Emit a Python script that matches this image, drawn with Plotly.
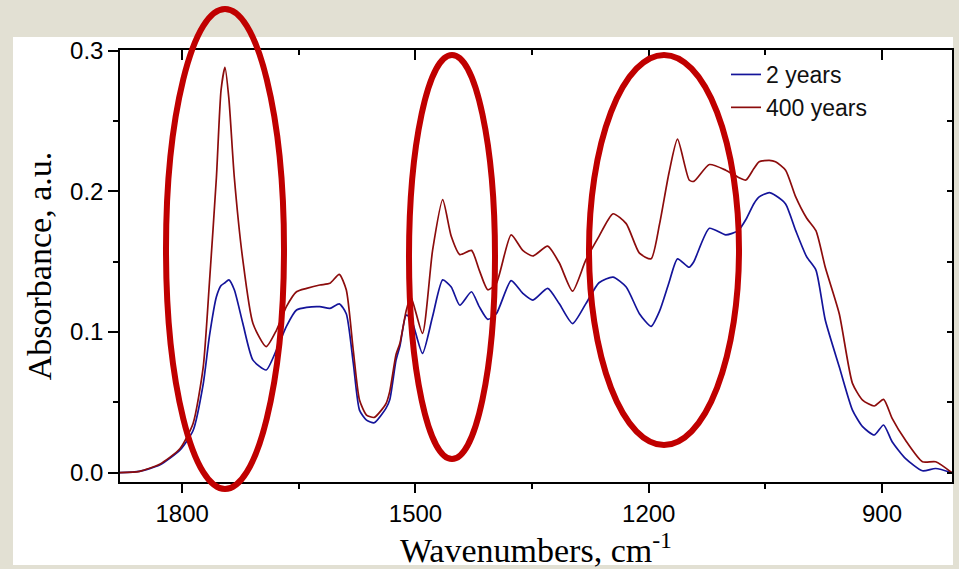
import plotly.graph_objects as go

# ---- data ----
wavenumber = [1880, 1855, 1829, 1803, 1786, 1773, 1765, 1756, 1750, 1745, 1740,
              1733, 1722, 1709, 1692, 1679, 1666, 1653, 1640, 1623, 1610, 1598,
              1589, 1580, 1572, 1563, 1553, 1538, 1533, 1525, 1520, 1512, 1506,
              1491, 1478, 1465, 1454, 1443, 1428, 1418, 1407, 1396, 1377, 1362,
              1349, 1330, 1315, 1298, 1281, 1264, 1246, 1229, 1212, 1197, 1186,
              1174, 1163, 1148, 1142, 1122, 1101, 1085, 1075, 1065, 1058, 1045,
              1037, 1024, 1011, 997, 985, 973, 955, 938, 925, 910, 898, 887, 870,
              848, 831, 810]
years_2 = [0.0, 0.001, 0.0055, 0.016, 0.030, 0.063, 0.097, 0.125, 0.133, 0.135, 0.137,
           0.130, 0.106, 0.080, 0.073, 0.087, 0.104, 0.1156, 0.1175, 0.118, 0.1168, 0.120,
           0.113, 0.078, 0.0445, 0.0374, 0.0355, 0.0457, 0.052, 0.080, 0.090, 0.112, 0.110,
           0.0848, 0.111, 0.137, 0.132, 0.119, 0.1286, 0.118, 0.109, 0.113, 0.1365, 0.1275,
           0.1227, 0.131, 0.120, 0.106, 0.120, 0.135, 0.139, 0.132, 0.113, 0.104, 0.115,
           0.135, 0.152, 0.146, 0.150, 0.1737, 0.169, 0.172, 0.180, 0.191, 0.196, 0.199,
           0.197, 0.191, 0.172, 0.1535, 0.144, 0.1085, 0.0753, 0.0445, 0.0327, 0.0268, 0.0339, 0.022, 0.0102,
           0.0014, 0.003, 0.0]
years_400 = [0.0, 0.001, 0.006, 0.017, 0.035, 0.075, 0.135, 0.210, 0.272, 0.288, 0.266,
             0.210, 0.151, 0.106, 0.0896, 0.101, 0.118, 0.1286, 0.131, 0.1334, 0.1346, 0.141,
             0.130, 0.087, 0.0517, 0.041, 0.0393, 0.049, 0.058, 0.084, 0.092, 0.115, 0.125,
             0.099, 0.158, 0.194, 0.168, 0.155, 0.158, 0.144, 0.130, 0.1346, 0.169, 0.158,
             0.154, 0.161, 0.149, 0.129, 0.151, 0.168, 0.184, 0.177, 0.156, 0.152, 0.177,
             0.213, 0.237, 0.208, 0.207, 0.219, 0.215, 0.210, 0.208, 0.216, 0.221, 0.222,
             0.221, 0.215, 0.196, 0.181, 0.172, 0.146, 0.113, 0.0635, 0.0516, 0.0474, 0.0521, 0.0386, 0.0232,
             0.0078, 0.0078, 0.0]
series_names = ["2 years", "400 years"]
series_colors = ["#14149a", "#8c0c0c"]
x_ticks = [1800, 1500, 1200, 900]
y_ticks = [0.0, 0.1, 0.2, 0.3]

W, H = 959, 569
L, R, T, B = 120, 7, 50, 87
PW, PH = W - L - R, H - T - B


def px_to_paper_x(px):
    return (px - L) / PW


def py_to_paper_y(py):
    return (H - B - py) / PH


fig = go.Figure()
for name, vals, col in zip(series_names, [years_2, years_400], series_colors):
    fig.add_trace(go.Scatter(x=wavenumber, y=vals, name=name, mode="lines",
                             line=dict(color=col, width=1.7, shape="spline", smoothing=0.6)))

# dummy trace for mirrored (inside) axes
fig.add_trace(go.Scatter(x=[1880], y=[0], xaxis="x2", yaxis="y2", mode="markers",
                         marker=dict(opacity=0), showlegend=False, hoverinfo="skip"))

xr = [1880, 810]
yr = [-0.0066, 0.3004]
tickfont = dict(family="Arial", size=24, color="black")

fig.update_layout(
    width=W, height=H,
    margin=dict(l=L, r=R, t=T, b=B),
    paper_bgcolor="#e2e0d3",
    plot_bgcolor="white",
    xaxis=dict(range=xr, autorange=False, tickmode="array", tickvals=x_ticks,
               ticktext=[str(v) for v in x_ticks],
               ticks="outside", ticklen=9, tickwidth=1.5, tickcolor="black",
               minor=dict(ticks="outside", ticklen=5, tickwidth=1.5, tickcolor="black",
                          tickmode="array", tickvals=[1650, 1350, 1050]),
               showline=True, linecolor="black", linewidth=1.5, showgrid=False,
               zeroline=False, tickfont=tickfont,
               title=dict(text="Wavenumbers, cm<sup>-1</sup>",
                          font=dict(family="Times New Roman", size=34, color="black"),
                          standoff=4)),
    yaxis=dict(range=yr, autorange=False, tickmode="array", tickvals=y_ticks,
               ticktext=["%.1f" % v for v in y_ticks],
               ticks="outside", ticklen=10, tickwidth=1.5, tickcolor="black",
               minor=dict(ticks="outside", ticklen=5, tickwidth=1.5, tickcolor="black",
                          tickmode="array", tickvals=[0.05, 0.15, 0.25]),
               showline=True, linecolor="black", linewidth=1.5, showgrid=False,
               zeroline=False, tickfont=tickfont,
               title=dict(text="Absorbance, a.u.",
                          font=dict(family="Times New Roman", size=34, color="black"),
                          standoff=8)),
    xaxis2=dict(range=xr, autorange=False, overlaying="x", side="top", anchor="y2",
                tickmode="array", tickvals=x_ticks, showticklabels=False,
                ticks="inside", ticklen=10, tickwidth=1.5, tickcolor="black",
                minor=dict(ticks="inside", ticklen=5, tickwidth=1.5, tickcolor="black",
                           tickmode="array", tickvals=[1650, 1350, 1050]),
                showline=True, linecolor="black", linewidth=1.5, showgrid=False, zeroline=False),
    yaxis2=dict(range=yr, autorange=False, overlaying="y", side="right", anchor="x2",
                tickmode="array", tickvals=y_ticks, showticklabels=False,
                ticks="inside", ticklen=5, tickwidth=1.5, tickcolor="black",
                minor=dict(ticks="inside", ticklen=5, tickwidth=1.5, tickcolor="black",
                           tickmode="array", tickvals=[0.05, 0.15, 0.25]),
                showline=True, linecolor="black", linewidth=1.5, showgrid=False, zeroline=False),
    legend=dict(x=px_to_paper_x(726), y=py_to_paper_y(53), xanchor="left", yanchor="top",
                bgcolor="rgba(0,0,0,0)", borderwidth=0,
                font=dict(family="Arial", size=23, color="#111111"),
                tracegroupgap=0),
    showlegend=True,
)

shapes = []
# white card behind the chart
shapes.append(dict(type="rect", xref="paper", yref="paper", layer="below",
                   x0=px_to_paper_x(13), x1=px_to_paper_x(953),
                   y0=py_to_paper_y(565), y1=py_to_paper_y(37),
                   fillcolor="white", line=dict(width=0)))
# red highlight ellipses (pixel centre, half-width, half-height)
ellipses = [(225, 249, 59, 240), (452, 257, 43, 202), (664, 250, 75, 195)]
for cx, cy, rx, ry in ellipses:
    shapes.append(dict(type="circle", xref="paper", yref="paper", layer="above",
                       x0=px_to_paper_x(cx - rx), x1=px_to_paper_x(cx + rx),
                       y0=py_to_paper_y(cy + ry), y1=py_to_paper_y(cy - ry),
                       line=dict(color="#c00000", width=6)))
fig.update_layout(shapes=shapes)

fig.write_html("out.html",
               config={"displayModeBar": False},
               post_script="document.body.style.margin='0';document.body.style.overflow='hidden';")
